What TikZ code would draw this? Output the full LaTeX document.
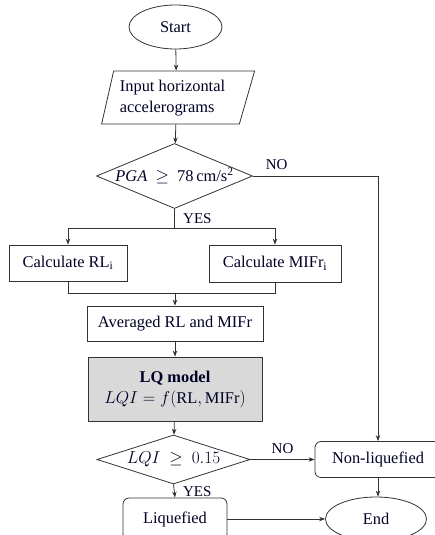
\documentclass[tikz,border=0pt]{standalone}
\usepackage{amsmath}
\usepackage{fontspec}
\setmainfont{Liberation Serif}
\usepackage{tikz}
\usetikzlibrary{shapes.geometric,arrows.meta}

\begin{document}
\begin{tikzpicture}[
	x=1pt, y=-1pt,
	% Define styles for the flowchart boxes
	every node/.style={font=\fontsize{16.4}{21}\selectfont, text=black!85!blue},
	term/.style={ellipse, draw, inner sep=0pt},
	io/.style={trapezium, trapezium left angle=74, trapezium right angle=110, trapezium stretches body, draw, inner sep=0pt},
	decision/.style={diamond, draw, inner sep=0pt},
	process/.style={rectangle, draw, inner sep=0pt},
	result/.style={rectangle, rounded corners=6pt, draw, inner sep=0pt},
	tag/.style={font=\fontsize{15}{18}\selectfont},
	arr/.style={-{Stealth[length=6pt,width=4.5pt]}},
	line width=0.8pt, draw=black!80
	]
	
	\useasboundingbox (0,0) rectangle (435,535);
	\clip (0,0) rectangle (435,535);
	
	% Define and place your nodes
	\node[term, minimum width=93, minimum height=44] (start) at (175.5,27) {Start};
	\node[io, minimum width=153, minimum height=53] (input) at (176.5,97.5) {\hspace*{-8pt}\begin{tabular}{@{}l@{}}Input horizontal\\accelerograms\end{tabular}};
	\node[decision, minimum width=156, minimum height=65] (pga) at (174.5,176) {\makebox[0pt]{\textit{PGA}\ \ $\geq$\ \ 78\,cm/s\textsuperscript{2}}};
	\coordinate (split) at (174.5,228);
	\node[process, minimum width=118, minimum height=36] (calcRL) at (68,263) {Calculate RL\textsubscript{i}};
	\node[process, minimum width=132, minimum height=37] (calcMIFr) at (275,263.5) {Calculate MIFr\textsubscript{i}};
	\coordinate (join) at (175,293);
	\node[process, minimum width=176, minimum height=35] (avg) at (175,323.5) {Averaged RL and MIFr};
	\node[process, fill=gray!30, minimum width=174, minimum height=64, align=center] (lq) at (175,389) {\textbf{LQ model}\\$LQI = f(\mathrm{RL}, \mathrm{MIFr})$};
	\node[decision, minimum width=153, minimum height=49] (lqi) at (173.5,459.5) {\makebox[0pt]{$LQI\ \geq\ 0.15$}};
	\node[result, minimum width=126, minimum height=36] (nonliq) at (378,459.5) {Non-liquefied};
	\node[result, minimum width=104, minimum height=42] (liq) at (175,519) {Liquefied};
	\node[term, minimum width=101, minimum height=44] (end) at (376,519) {End};
	
	% --- Draw the edges ---
	\draw[arr] (start) -- (input);
	\draw[arr] (input) -- (pga);
	\draw[arr] (pga.east) -| node[tag, pos=0.095, above=3pt] (no1) {NO} (nonliq.north);
	\draw (pga.south) -- node[tag, right=5pt] (yes1) {YES} (split);
	\draw[arr] (split) -| (calcRL.north);
	\draw[arr] (split) -| (calcMIFr.north);
	\draw (calcRL.south) -- (calcRL.south |- join) -- (calcMIFr.south |- join) -- (calcMIFr.south);
	\draw[arr] (join) -- (avg);
	\draw[arr] (avg) -- (lq);
	\draw[arr] (lq) -- (lqi);
	\draw[arr] (lqi.east) -- node[tag, above=2pt] (no2) {NO} (nonliq.west);
	\draw[arr] (lqi.south) -- node[tag, right=5pt, pos=0.55] (yes2) {YES} (liq.north);
	\draw[arr] (nonliq.south) -- (nonliq.south |- end.north);
	\draw[arr] (liq.east) -- (end.west);
\end{tikzpicture}
\end{document}
